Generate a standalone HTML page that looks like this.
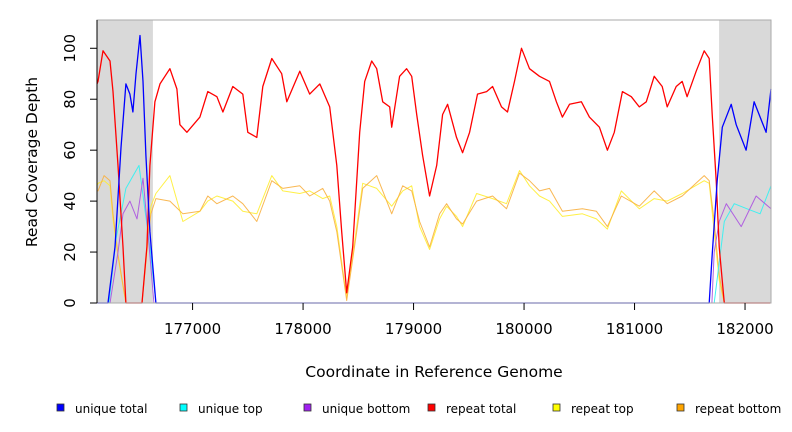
<!DOCTYPE html>
<html><head><meta charset="utf-8"><style>
body{margin:0;background:#fff;}
svg{display:block;font-family:"DejaVu Sans","Liberation Sans",sans-serif;}
</style></head><body>
<svg id="chart" width="792" height="432" viewBox="0 0 792 432">
<g id="plot"></g>
</svg>
<script>
const xDomain=[176135,182235];
const yDomain=[0,111.1];
const xTicks=[177000,178000,179000,180000,181000,182000];
const yTicks=[0,20,40,60,80,100];
const shadeRegions=[[176135,176641],[181765,182235]];
const legendLabels=["unique total","unique top","unique bottom","repeat total","repeat top","repeat bottom"];
const seriesColors=["#0000ff","#00ffff","#a020f0","#ff0000","#ffff00","#ffa500"];

const repeatTotalPos=[176135,176144,176189,176253,176280,176325,176370,176397,176542,176587,176614,176659,176705,176795,176858,176885,176949,177066,177138,177220,177274,177364,177455,177500,177581,177636,177717,177807,177853,177970,178060,178151,178241,178305,178350,178395,178449,178513,178558,178621,178666,178721,178784,178802,178874,178937,178983,179028,179082,179145,179209,179263,179308,179389,179444,179507,179579,179661,179715,179796,179850,179914,179977,180049,180140,180230,180293,180347,180411,180519,180591,180682,180754,180817,180890,180971,181043,181106,181178,181250,181296,181377,181431,181476,181558,181630,181676,181703,181739,181766,181812,182228];
const repeatTotal=[86,87,99,95,83,54,22,0,0,22,54,79,86,92,84,70,67,73,83,81,75,85,82,67,65,85,96,90,79,91,82,86,77,54,28,4,22,67,87,95,92,79,77,69,89,92,89,74,58,42,54,74,78,65,59,67,82,83,85,77,75,87,100,92,89,87,79,73,78,79,73,69,60,67,83,81,77,79,89,85,77,85,87,81,91,99,96,74,48,22,0,0];

const repeatBottomPos=[176135,176144,176199,176253,176280,176325,176397,176542,176587,176623,176668,176795,176912,177066,177138,177220,177364,177455,177581,177717,177817,177970,178060,178178,178241,178305,178395,178485,178540,178666,178802,178902,178983,179055,179145,179236,179299,179389,179444,179571,179715,179841,179959,180049,180140,180230,180347,180528,180655,180754,180880,181043,181178,181296,181431,181630,181676,181721,181766,181812,182228];
const repeatBottom=[44,44,50,48,35,19,0,0,22,35,41,40,35,36,42,39,42,39,32,48,45,46,42,45,40,28,1,28,45,50,35,46,44,32,22,35,39,33,31,40,42,37,51,48,44,45,36,37,36,30,42,38,44,39,42,50,48,32,11,0,0];
const repeatTopPos=[176135,176144,176199,176253,176280,176325,176397,176542,176587,176623,176668,176795,176912,177066,177138,177220,177364,177455,177581,177717,177817,177970,178060,178178,178241,178305,178395,178485,178540,178666,178802,178902,178983,179055,179145,179236,179299,179389,179444,179571,179715,179841,179959,180049,180140,180230,180347,180528,180655,180754,180880,181043,181178,181296,181431,181630,181676,181721,181766,181812,182228];
const repeatTop=[46,47,48,46,33,18,0,0,20,38,43,50,32,36,40,42,40,36,35,50,44,43,44,41,42,30,2,30,47,45,38,44,46,30,21,33,38,34,30,43,41,39,52,46,42,40,34,35,33,29,44,37,41,40,43,48,47,28,9,0,0];

const uniqueTotalPos=[176135,176235,176298,176352,176397,176433,176460,176488,176524,176551,176578,176614,176668,181676,181703,181748,181794,181875,181920,182010,182082,182191,182235];
const uniqueTotal=[0,0,22,61,86,82,75,90,105,87,58,28,0,0,19,48,69,78,70,60,79,67,84];
const uniqueTopPos=[176135,176244,176307,176397,176515,176614,176668,181721,181812,181902,182019,182136,182235];
const uniqueTop=[0,0,25,45,54,22,0,0,32,39,37,35,46];
const uniqueBottomPos=[176135,176253,176325,176370,176433,176497,176551,176596,176650,181700,181721,181766,181830,181965,182100,182235];
const uniqueBottom=[0,0,20,35,40,33,49,28,0,0,20,32,39,30,42,37];

const L=97,R=771,T=20,B=303;
const xs=v=>L+(v-xDomain[0])/(xDomain[1]-xDomain[0])*(R-L);
const ys=v=>B-(v-yDomain[0])/(yDomain[1]-yDomain[0])*(B-T);
const NS="http://www.w3.org/2000/svg";
const svg=document.getElementById('chart');
const plot=document.getElementById('plot');
function mk(tag,attrs,parent){const e=document.createElementNS(NS,tag);for(const k in attrs)e.setAttribute(k,attrs[k]);(parent||svg).appendChild(e);return e;}

shadeRegions.forEach((r,i)=>{
  const e=mk('rect',{x:xs(r[0]),y:T,width:xs(r[1])-xs(r[0]),height:B-T,fill:'#d9d9d9'},plot);
  
  
});

function drawSeries(pos,vals,color,name,w,op){
  let d='';
  const tmp=pos.map((p,i)=>[p,vals[i]]).sort((a,b)=>a[0]-b[0]);
  tmp.forEach((pt,i)=>{
    const x=xs(pt[0]),y=ys(pt[1]);
    d+=(i===0?'M':' L')+x.toFixed(1)+' '+y.toFixed(1);
  });
  const e=mk('path',{d:d,fill:'none',stroke:color,'stroke-width':w,'stroke-opacity':op,'stroke-linejoin':'round'},plot);
  
  
}
drawSeries(repeatTopPos,repeatTop,'#ffee33','line-repeat-top',1,0.9);
drawSeries(repeatBottomPos,repeatBottom,'#f8b040','line-repeat-bottom',1,0.9);
drawSeries(uniqueTopPos,uniqueTop,'#40f0f0','line-unique-top',1,1);
drawSeries(uniqueBottomPos,uniqueBottom,'#b060e0','line-unique-bottom',1,1);
drawSeries(repeatTotalPos,repeatTotal,'#ff0000','line-repeat-total',1.3,1);
drawSeries(uniqueTotalPos,uniqueTotal,'#0000ff','line-unique-total',1.3,1);

const fr=mk('rect',{x:L,y:T,width:R-L,height:B-T,fill:'none',stroke:'#aaaaaa','stroke-width':1});


const ax=mk('line',{x1:L,y1:T,x2:L,y2:B,stroke:'#000','stroke-width':1});



yTicks.forEach(t=>{
  const y=ys(t);
  const tk=mk('line',{x1:L-7,y1:y,x2:L,y2:y,stroke:'#000'});
  
  
  const tx=mk('text',{x:0,y:0,transform:'translate(75,'+y+') rotate(-90)','text-anchor':'middle','font-size':15,fill:'#000'});
  tx.textContent=t;
  
  
});
xTicks.forEach(t=>{
  const x=xs(t);
  const tk=mk('line',{x1:x,y1:B,x2:x,y2:B+7,stroke:'#000'});
  
  
  const tx=mk('text',{x:x,y:334,'text-anchor':'middle','font-size':15,fill:'#000'});
  tx.textContent=t;
  
  
});
const yt=mk('text',{x:0,y:0,transform:'translate(37,162) rotate(-90)','text-anchor':'middle','font-size':15.5,fill:'#000'});
yt.textContent='Read Coverage Depth';


const xt=mk('text',{x:434,y:377,'text-anchor':'middle','font-size':15.5,fill:'#000'});
xt.textContent='Coordinate in Reference Genome';



const legX=[57,180,304,428,553,677];
legendLabels.forEach((lab,i)=>{
  const g=mk('g',{});
  
  
  mk('rect',{x:legX[i],y:404,width:7,height:7,fill:seriesColors[i],stroke:'#333','stroke-width':0.8},g);
  const t=mk('text',{x:legX[i]+18,y:413,'font-size':12,fill:'#000'},g);
  t.textContent=lab;
});
</script>
</body></html>
